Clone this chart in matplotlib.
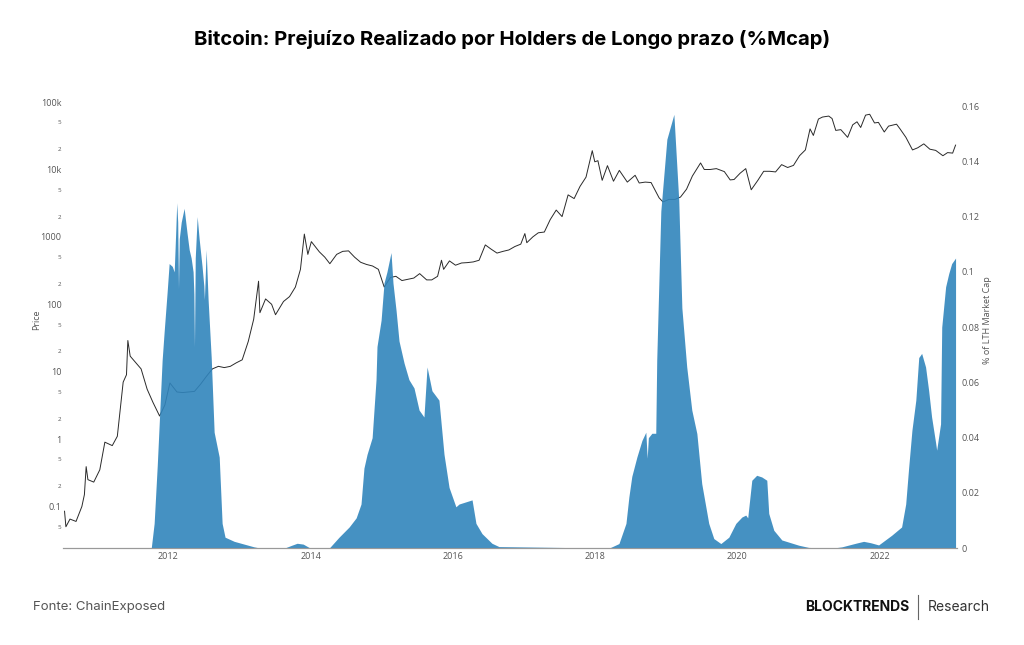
import pandas as pd
import matplotlib
matplotlib.use('Agg')
import matplotlib.pyplot as plt
from matplotlib.ticker import FixedLocator

# Bitcoin price (USD)
price_dates = ['2010-07-18', '2010-07-25', '2010-08-15', '2010-09-15', '2010-10-15', '2010-10-28',
               '2010-11-06', '2010-11-15', '2010-12-15', '2011-01-15', '2011-02-10', '2011-03-01',
               '2011-03-20', '2011-04-15', '2011-05-01', '2011-05-15', '2011-06-01', '2011-06-08',
               '2011-06-20', '2011-07-15', '2011-08-15', '2011-09-15', '2011-10-15', '2011-11-18',
               '2011-12-15', '2012-01-10', '2012-02-15', '2012-03-15', '2012-04-15', '2012-05-15',
               '2012-06-15', '2012-07-15', '2012-08-15', '2012-09-15', '2012-10-15', '2012-11-15',
               '2012-12-15', '2013-01-15', '2013-02-15', '2013-03-15', '2013-04-09', '2013-04-16',
               '2013-05-15', '2013-06-15', '2013-07-05', '2013-08-15', '2013-09-15', '2013-10-15',
               '2013-11-10', '2013-11-30', '2013-12-18', '2014-01-05', '2014-02-15', '2014-03-15',
               '2014-04-10', '2014-05-15', '2014-06-15', '2014-07-15', '2014-08-15', '2014-09-15',
               '2014-10-15', '2014-11-15', '2014-12-15', '2015-01-14', '2015-02-15', '2015-03-15',
               '2015-04-15', '2015-05-15', '2015-06-15', '2015-07-15', '2015-08-20', '2015-09-15',
               '2015-10-15', '2015-11-04', '2015-11-15', '2015-12-15', '2016-01-15', '2016-02-15',
               '2016-03-15', '2016-04-15', '2016-05-15', '2016-06-16', '2016-07-15', '2016-08-15',
               '2016-09-15', '2016-10-15', '2016-11-15', '2016-12-15', '2017-01-05', '2017-01-15',
               '2017-02-15', '2017-03-15', '2017-04-15', '2017-05-15', '2017-06-15', '2017-07-15',
               '2017-08-15', '2017-09-15', '2017-10-15', '2017-11-15', '2017-12-17', '2017-12-30',
               '2018-01-15', '2018-02-06', '2018-03-05', '2018-04-05', '2018-05-05', '2018-06-15',
               '2018-07-25', '2018-08-15', '2018-09-15', '2018-10-15', '2018-11-25', '2018-12-15',
               '2019-01-15', '2019-02-15', '2019-03-15', '2019-04-15', '2019-05-15', '2019-06-26',
               '2019-07-15', '2019-08-15', '2019-09-15', '2019-10-26', '2019-11-25', '2019-12-15',
               '2020-01-15', '2020-02-13', '2020-03-12', '2020-04-15', '2020-05-15', '2020-06-15',
               '2020-07-15', '2020-08-15', '2020-09-15', '2020-10-15', '2020-11-15', '2020-12-15',
               '2021-01-08', '2021-01-25', '2021-02-20', '2021-03-13', '2021-04-14', '2021-05-01',
               '2021-05-20', '2021-06-15', '2021-07-20', '2021-08-15', '2021-09-06', '2021-09-25',
               '2021-10-20', '2021-11-10', '2021-12-05', '2021-12-25', '2022-01-24', '2022-02-15',
               '2022-03-28', '2022-04-15', '2022-05-15', '2022-06-18', '2022-07-15', '2022-08-15',
               '2022-09-15', '2022-10-15', '2022-11-21', '2022-12-15', '2023-01-10', '2023-01-25']
price_values = [0.085, 0.05, 0.065, 0.06, 0.1, 0.15,
                0.39, 0.25, 0.23, 0.35, 0.9, 0.85,
                0.8, 1.1, 3.0, 7.0, 9.0, 29.0,
                17.0, 14.0, 11.0, 5.5, 3.5, 2.2,
                3.2, 6.8, 5.0, 4.9, 5.0, 5.1,
                6.5, 8.5, 11.0, 12.0, 11.5, 12.0,
                13.5, 15.0, 28.0, 60.0, 220.0, 75.0,
                120.0, 100.0, 70.0, 110.0, 130.0, 180.0,
                330.0, 1100.0, 550.0, 850.0, 600.0, 500.0,
                400.0, 550.0, 610.0, 620.0, 500.0, 420.0,
                390.0, 370.0, 330.0, 180.0, 250.0, 260.0,
                225.0, 235.0, 245.0, 285.0, 230.0, 230.0,
                260.0, 450.0, 330.0, 440.0, 380.0, 410.0,
                415.0, 425.0, 450.0, 760.0, 660.0, 575.0,
                610.0, 640.0, 720.0, 780.0, 1120.0, 820.0,
                1000.0, 1150.0, 1180.0, 1800.0, 2500.0, 2000.0,
                4200.0, 3700.0, 5600.0, 7700.0, 19000.0, 13000.0,
                13500.0, 6900.0, 11400.0, 6700.0, 9700.0, 6500.0,
                8200.0, 6300.0, 6500.0, 6400.0, 3800.0, 3300.0,
                3600.0, 3600.0, 3900.0, 5100.0, 8000.0, 12500.0,
                10000.0, 10000.0, 10300.0, 9300.0, 7000.0, 7100.0,
                8800.0, 10300.0, 5000.0, 6900.0, 9400.0, 9400.0,
                9200.0, 11800.0, 10700.0, 11500.0, 16000.0, 19500.0,
                40000.0, 32000.0, 56000.0, 60000.0, 62000.0, 57000.0,
                38000.0, 39000.0, 30000.0, 46000.0, 51000.0, 42000.0,
                64000.0, 66000.0, 49000.0, 50000.0, 36000.0, 44000.0,
                47000.0, 40000.0, 30000.0, 19500.0, 21000.0, 24000.0,
                20000.0, 19200.0, 16000.0, 17800.0, 17500.0, 23000.0]

# Realized loss of long term holders, % of market cap
lth_dates = ['2010-07-18', '2011-10-06', '2011-10-21', '2011-11-06', '2011-11-16', '2011-12-01',
             '2011-12-11', '2011-12-27', '2012-01-06', '2012-01-22', '2012-02-01', '2012-02-09',
             '2012-02-14', '2012-02-19', '2012-02-23', '2012-02-27', '2012-03-08', '2012-03-23',
             '2012-04-07', '2012-04-18', '2012-04-28', '2012-05-08', '2012-05-12', '2012-05-15',
             '2012-05-19', '2012-05-29', '2012-06-08', '2012-06-23', '2012-07-02', '2012-07-05',
             '2012-07-14', '2012-07-24', '2012-08-09', '2012-08-24', '2012-09-19', '2012-10-04',
             '2012-10-19', '2012-12-05', '2013-01-25', '2013-03-17', '2013-04-22', '2013-08-18',
             '2013-09-23', '2013-10-24', '2013-11-24', '2013-12-24', '2014-01-14', '2014-04-06',
             '2014-05-27', '2014-07-18', '2014-08-23', '2014-09-17', '2014-10-02', '2014-10-18',
             '2014-11-13', '2014-12-03', '2014-12-08', '2014-12-29', '2015-01-13', '2015-01-28',
             '2015-02-18', '2015-02-28', '2015-03-16', '2015-03-31', '2015-04-26', '2015-05-21',
             '2015-06-16', '2015-07-12', '2015-08-06', '2015-08-22', '2015-09-16', '2015-10-22',
             '2015-11-17', '2015-12-13', '2016-01-17', '2016-02-02', '2016-04-09', '2016-04-29',
             '2016-05-30', '2016-07-20', '2016-08-25', '2016-12-06', '2017-06-29', '2018-01-20',
             '2018-03-12', '2018-05-03', '2018-06-08', '2018-06-23', '2018-07-08', '2018-08-03',
             '2018-08-29', '2018-09-18', '2018-09-25', '2018-10-01', '2018-10-19', '2018-11-08',
             '2018-11-13', '2018-12-04', '2019-01-04', '2019-02-09', '2019-03-06', '2019-03-22',
             '2019-04-16', '2019-05-12', '2019-06-07', '2019-07-02', '2019-08-07', '2019-09-02',
             '2019-10-08', '2019-11-18', '2019-12-24', '2020-01-24', '2020-02-13', '2020-02-23',
             '2020-03-15', '2020-04-09', '2020-05-05', '2020-05-31', '2020-06-10', '2020-07-06',
             '2020-08-16', '2020-11-11', '2021-01-01', '2021-04-29', '2021-06-20', '2021-08-30',
             '2021-10-10', '2021-11-15', '2021-12-26', '2022-03-03', '2022-04-23', '2022-05-14',
             '2022-05-29', '2022-06-15', '2022-07-05', '2022-07-20', '2022-08-04', '2022-08-24',
             '2022-09-09', '2022-09-24', '2022-10-15', '2022-10-20', '2022-11-09', '2022-11-15',
             '2022-12-05', '2022-12-21', '2023-01-05', '2023-01-25']
lth_values = [0.0, 0.0, 0.009, 0.03, 0.045, 0.068,
              0.078, 0.093, 0.103, 0.102, 0.10, 0.115,
              0.125, 0.118, 0.094, 0.112, 0.118, 0.123,
              0.114, 0.108, 0.105, 0.100, 0.092, 0.073,
              0.105, 0.12, 0.112, 0.102, 0.095, 0.09,
              0.108, 0.09, 0.069, 0.042, 0.033, 0.009,
              0.004, 0.0025, 0.0015, 0.0005, 0.0, 0.0,
              0.001, 0.0018, 0.0015, 0.0003, 0.0, 0.0,
              0.004, 0.0077, 0.011, 0.016, 0.029, 0.034,
              0.040, 0.061, 0.073, 0.0825, 0.096, 0.10,
              0.107, 0.096, 0.086, 0.075, 0.067, 0.061,
              0.058, 0.050, 0.0475, 0.0656, 0.057, 0.0536,
              0.034, 0.022, 0.015, 0.016, 0.0175, 0.009,
              0.0053, 0.0018, 0.0006, 0.0005, 0.0003, 0.0001,
              0.0, 0.0017, 0.009, 0.0186, 0.026, 0.033,
              0.039, 0.042, 0.0326, 0.040, 0.0416, 0.0416,
              0.068, 0.122, 0.148, 0.157, 0.126, 0.087,
              0.0656, 0.050, 0.0415, 0.0234, 0.009, 0.0035,
              0.0017, 0.004, 0.009, 0.0113, 0.012, 0.011,
              0.0246, 0.0264, 0.0258, 0.0246, 0.0126, 0.0065,
              0.003, 0.0011, 0.0003, 0.0, 0.0005, 0.0018,
              0.0025, 0.002, 0.0012, 0.0047, 0.0077, 0.016,
              0.029, 0.0427, 0.0536, 0.069, 0.0705, 0.0656,
              0.057, 0.0475, 0.038, 0.0355, 0.045, 0.080,
              0.0946, 0.0994, 0.103, 0.105]

price_major = [0.1, 1, 10, 100, 1000, 10000, 100000]
price_major_labels = ['0.1', '1', '10', '100', '1000', '10k', '100k']
price_minor = [0.05, 0.2, 0.5, 2, 5, 20, 50, 200, 500, 2000, 5000, 20000, 50000]
price_minor_labels = ['5', '2', '5', '2', '5', '2', '5', '2', '5', '2', '5', '2', '5']
year_ticks = ['2012', '2014', '2016', '2018', '2020', '2022']
lth_ticks = [0, 0.02, 0.04, 0.06, 0.08, 0.1, 0.12, 0.14, 0.16]
lth_tick_labels = ['0', '0.02', '0.04', '0.06', '0.08', '0.1', '0.12', '0.14', '0.16']

price = pd.Series(price_values, index=pd.to_datetime(price_dates))
lth = pd.Series(lth_values, index=pd.to_datetime(lth_dates))

plt.rcParams['font.family'] = ['Open Sans', 'DejaVu Sans']
tick_color = '#555555'

fig = plt.figure(figsize=(10.24, 6.45), dpi=100)
ax = fig.add_axes([0.0615, 0.150, 0.873, 0.707])
ax2 = ax.twinx()

ax.plot(price.index, price.values, color='#2a2a2a', linewidth=0.7)
ax.set_yscale('log')
ax.set_ylim(0.024, 140000)
ax.yaxis.set_major_locator(FixedLocator(price_major))
ax.yaxis.set_minor_locator(FixedLocator(price_minor))
ax.set_yticklabels(price_major_labels)
ax.set_yticklabels(price_minor_labels, minor=True)
ax.tick_params(axis='y', which='major', length=0, labelsize=6.5, colors=tick_color, pad=1)
ax.tick_params(axis='y', which='minor', length=0, labelsize=4.5, colors=tick_color, pad=1)
ax.set_ylabel('Price', fontsize=6.5, color=tick_color)
ax.yaxis.set_label_coords(-0.024, 0.5)

ax2.fill_between(lth.index, 0, lth.values, color='#3185bc', alpha=0.9, linewidth=0)
ax2.set_ylim(0, 0.165)
ax2.set_yticks(lth_ticks)
ax2.set_yticklabels(lth_tick_labels)
ax2.tick_params(axis='y', length=0, labelsize=6.5, colors=tick_color, pad=3)
ax2.set_ylabel('% of LTH Market Cap', fontsize=6.5, color=tick_color, labelpad=3)

ax.set_xlim(pd.Timestamp('2010-07-10'), pd.Timestamp('2023-02-01'))
ax.set_xticks(pd.to_datetime([y + '-01-01' for y in year_ticks]))
ax.set_xticklabels(year_ticks)
ax.tick_params(axis='x', length=0, labelsize=6.5, colors=tick_color, pad=3)

for a in (ax, ax2):
    for side in ('top', 'left', 'right'):
        a.spines[side].set_visible(False)
    a.spines['bottom'].set_color('#999999')
    a.spines['bottom'].set_linewidth(0.8)

fig.text(0.5, 0.938, 'Bitcoin: Prejuízo Realizado por Holders de Longo prazo (%Mcap)',
         ha='center', va='center', fontsize=14.6, fontweight='bold', family=['Inter', 'DejaVu Sans'])
fig.text(0.032, 0.059, 'Fonte: ChainExposed', ha='left', va='center', fontsize=9.5,
         color='#555555', family=['Inter', 'DejaVu Sans'])
fig.text(0.888, 0.059, 'BLOCKTRENDS', ha='right', va='center', fontsize=10,
         fontweight='bold', color='#111111', family=['Inter', 'DejaVu Sans'])
fig.text(0.967, 0.059, 'Research', ha='right', va='center', fontsize=10,
         color='#333333', family=['Inter', 'DejaVu Sans'])
fig.add_artist(plt.Line2D([0.8965, 0.8965], [0.040, 0.078], color='#666666', linewidth=0.8))

fig.savefig('out.png', dpi=100, facecolor='white')
